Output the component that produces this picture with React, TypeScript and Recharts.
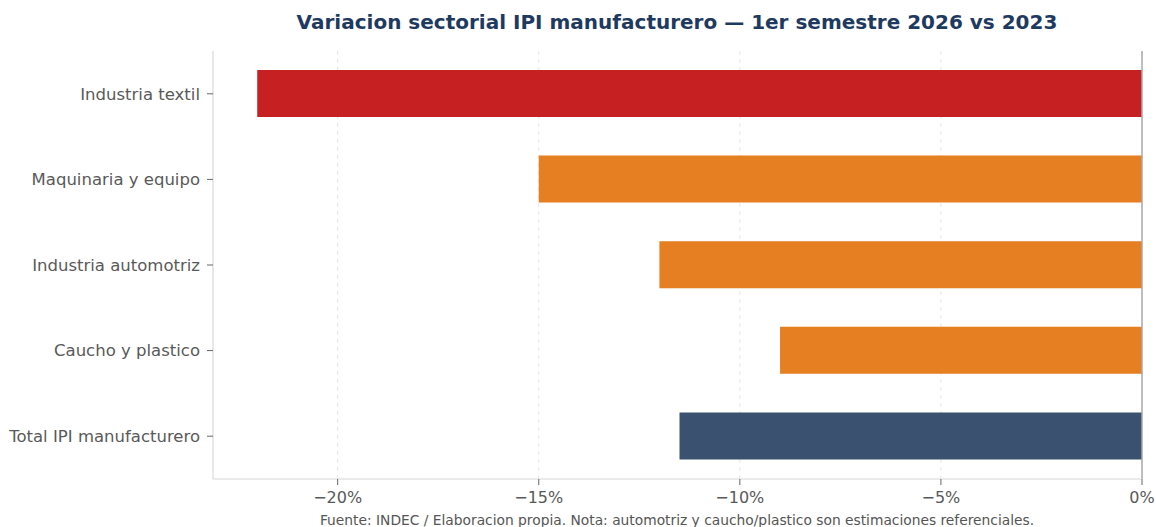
import React from "react";
import { BarChart, Bar, XAxis, YAxis, CartesianGrid, ReferenceLine, Cell } from "recharts";

const categories = ["Industria textil", "Maquinaria y equipo", "Industria automotriz", "Caucho y plastico", "Total IPI manufacturero"];
const values = [-22.0, -15.0, -12.0, -9.0, -11.5];
const barColors = ["#C62022", "#E67E22", "#E67E22", "#E67E22", "#3A526F"];
const xTicks = [-20, -15, -10, -5, 0];
const title = "Variacion sectorial IPI manufacturero \u2014 1er semestre 2026 vs 2023";
const footnote = "Fuente: INDEC / Elaboracion propia. Nota: automotriz y caucho/plastico son estimaciones referenciales.";

const data = categories.map((c, i) => ({ name: c, value: values[i], color: barColors[i] }));

const fmt = (v: number) => (v === 0 ? "0%" : `${v < 0 ? "\u2212" : ""}${Math.abs(v)}%`);

const FONT = "'DejaVu Sans', sans-serif";

export default function App() {
  return (
    <div style={{ position: "absolute", left: 0, top: 0, width: 1156, height: 527, background: "#fff", fontFamily: FONT }}>
      <style>{`body{margin:0}`}</style>
      <div style={{ position: "absolute", left: 113, width: 1128, top: 9, textAlign: "center", fontSize: 20, fontWeight: "bold", color: "#1F3A5F", fontFamily: FONT, lineHeight: "26px", whiteSpace: "nowrap" }}>
        {title}
      </div>
      <BarChart
        width={1156}
        height={527}
        data={data}
        layout="vertical"
        margin={{ top: 51, right: 14, left: 0, bottom: 18 }}
        barCategoryGap={0}
      >
        <CartesianGrid horizontal={false} vertical={true} stroke="#E6E6E6" strokeDasharray="4 4" />
        <XAxis
          type="number"
          domain={[-23.1, 0]}
          ticks={xTicks}
          tickFormatter={fmt}
          allowDataOverflow
          height={30}
          axisLine={{ stroke: "#E3E3E3", strokeWidth: 1.5 }}
          tickLine={{ stroke: "#666" }}
          tickSize={6}
          tickMargin={7}
          tick={{ fill: "#595959", fontSize: 16, fontFamily: FONT }}
        />
        <YAxis
          type="category"
          dataKey="name"
          width={213}
          axisLine={{ stroke: "#E3E3E3", strokeWidth: 1.5 }}
          tickLine={{ stroke: "#666" }}
          tickSize={6}
          tickMargin={7}
          tick={{ fill: "#595959", fontSize: 16.5, fontFamily: FONT }}
          interval={0}
        />
        <ReferenceLine x={0} stroke="#AAAAAA" strokeWidth={1.5} />
        <Bar dataKey="value" barSize={47} isAnimationActive={false}>
          {data.map((d, i) => (
            <Cell key={i} fill={d.color} />
          ))}
        </Bar>
      </BarChart>
      <div style={{ position: "absolute", left: 113, width: 1128, top: 511, textAlign: "center", fontSize: 13.8, color: "#555", fontFamily: FONT, lineHeight: "18px", whiteSpace: "nowrap" }}>
        {footnote}
      </div>
    </div>
  );
}
